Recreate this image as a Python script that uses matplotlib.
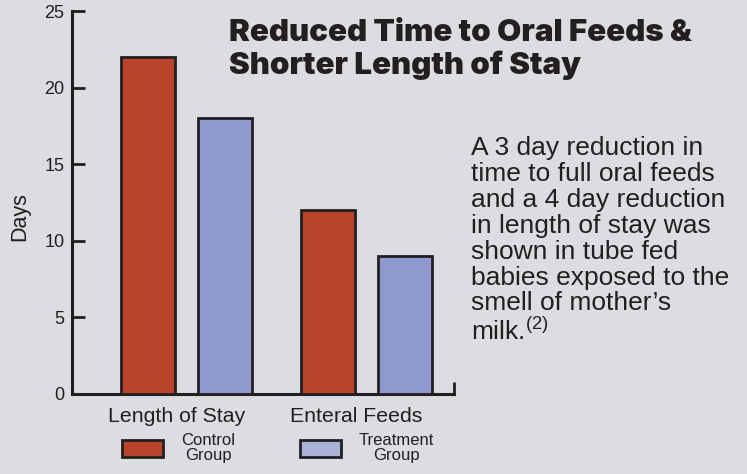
import matplotlib
matplotlib.use("Agg")
import matplotlib.pyplot as plt
import matplotlib.transforms as mtransforms
from matplotlib.patches import Patch
import numpy as np

categories = ["Length of Stay", "Enteral Feeds"]
control = [22, 12]
treatment = [18, 9]
series_names = ["Control\nGroup", "Treatment\nGroup"]
yticks = [0, 5, 10, 15, 20, 25]

title = "Reduced Time to Oral Feeds &\nShorter Length of Stay"
body = ("A 3 day reduction in\ntime to full oral feeds\nand a 4 day reduction\n"
        "in length of stay was\nshown in tube fed\nbabies exposed to the\n"
        "smell of mother\u2019s\nmilk.$^{(2)}$")

bg = "#dcdde1"
red = "#b9442a"
blue = "#8f99cd"
blue_leg = "#aab0d8"
ink = "#231f20"

plt.rcParams['font.family'] = ['Liberation Sans', 'DejaVu Sans']
plt.rcParams['mathtext.fontset'] = 'custom'
plt.rcParams['mathtext.rm'] = 'Liberation Sans'

fig = plt.figure(figsize=(7.47, 4.74), dpi=100, facecolor=bg)
ax = fig.add_axes([72/747, 1-394/474, (454-72)/747, (394-11)/474])
ax.set_facecolor(bg)

x = np.arange(len(categories))
w = 0.3
d = 0.428
ax.bar(x - d/2, control, w, color=red, edgecolor=ink, linewidth=2, zorder=3)
ax.bar(x + d/2, treatment, w, color=blue, edgecolor=ink, linewidth=2, zorder=3)

ax.set_xlim(-0.636, 1.486)
ax.set_ylim(0, 25)
ax.set_yticks(yticks)
ax.set_xticks(x)
ax.set_xticklabels(categories, fontsize=15.3, color=ink)
ax.tick_params(axis='x', length=0, pad=9)
ax.tick_params(axis='y', direction='in', length=9, width=2, color=ink,
               labelsize=13, labelcolor=ink, pad=5.5)
ax.set_xticks([1.486], minor=True)
ax.tick_params(axis='x', which='minor', direction='in', length=9, width=2, color=ink)
off = mtransforms.ScaledTranslation(-10/100, 0, fig.dpi_scale_trans)
for lab in ax.get_xticklabels():
    lab.set_transform(lab.get_transform() + off)

for s in ['top', 'right']:
    ax.spines[s].set_visible(False)
for s in ['left', 'bottom']:
    ax.spines[s].set_linewidth(2.2)
    ax.spines[s].set_color(ink)
ax.spines['left'].set_zorder(4)

fig.text(20/747, 1-217/474, "Days", rotation=90, fontsize=15.5, color=ink,
         ha='center', va='center')

fig.text(229/747, 1-19/474, title, fontsize=22.5, fontweight=900,
         family=['Inter', 'DejaVu Sans'], color=ink, ha='left', va='top',
         linespacing=1.15)

fig.text(471/747, 1-136/474, body, fontsize=19, color=ink, ha='left', va='top',
         linespacing=1.1)

handles = [Patch(facecolor=red, edgecolor=ink, linewidth=2),
           Patch(facecolor=blue_leg, edgecolor=ink, linewidth=2)]
leg = fig.legend(handles, series_names, loc='center left',
                 bbox_to_anchor=(122/747, 1-448/474), ncol=2, frameon=False,
                 fontsize=12, handlelength=2.46, handleheight=1.14,
                 handletextpad=1.08, columnspacing=3.9, borderpad=0, borderaxespad=0,
                 labelspacing=0)
for t in leg.get_texts():
    t.set_multialignment('center')
    t.set_color(ink)
    t.set_linespacing(0.95)

fig.savefig("out.png", dpi=100, facecolor=bg)
